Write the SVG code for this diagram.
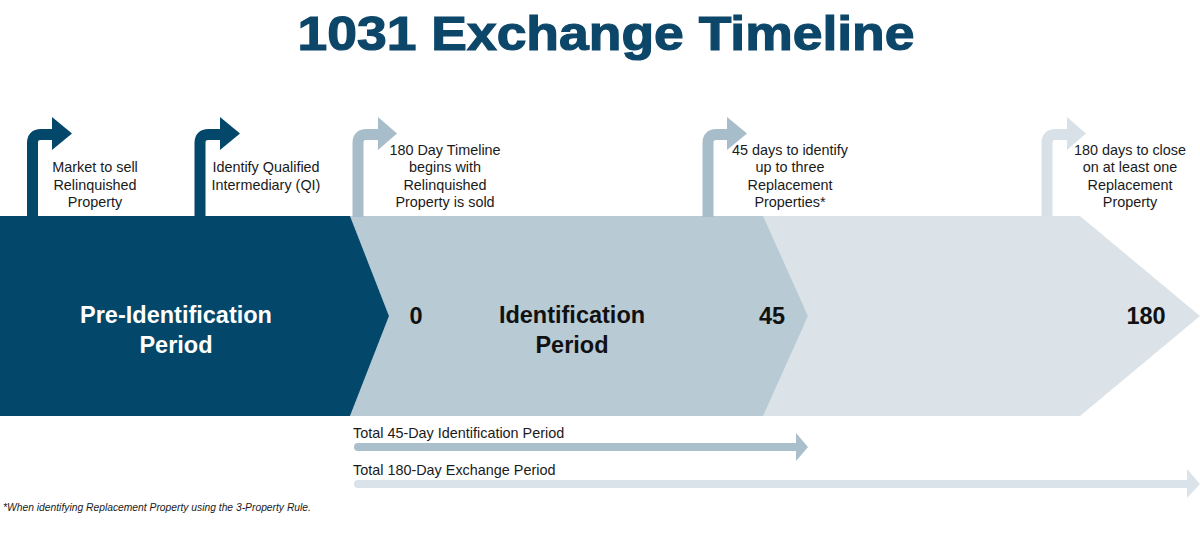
<svg xmlns="http://www.w3.org/2000/svg" width="1200" height="554" viewBox="0 0 1200 554">
<style>
.lbl{font-family:"Liberation Sans",Arial,sans-serif;font-size:14.4px;fill:#1a1a1a;text-anchor:middle}
.big{font-family:"Liberation Sans",Arial,sans-serif;font-size:23.5px;font-weight:bold;text-anchor:middle}
.stem{fill:none;stroke-width:11}
.dk{stroke:#03476b}.dkf{fill:#03476b}
.md{stroke:#a7bdca}.mdf{fill:#a7bdca}
.lt{stroke:#d7e1e7}.ltf{fill:#d7e1e7}
</style>
<rect width="1200" height="554" fill="#ffffff"/>
<text x="606" y="50" font-family="'Liberation Sans',Arial,sans-serif" font-size="48" font-weight="bold" fill="#0c4669" stroke="#0c4669" stroke-width="1.2" text-anchor="middle" textLength="617" lengthAdjust="spacingAndGlyphs">1031 Exchange Timeline</text>

<g id="chevron-light"><polygon points="760,216 1080,216 1200,316 1080,416 760,416 808,316" fill="#dbe3e9"/><text class="big" x="1146" y="324" fill="#111">180</text></g>
<g id="chevron-mid"><polygon points="350,216 763,216 808,316 763,416 350,416 389,316" fill="#b8cad4"/>
<text class="big" x="416" y="324" fill="#111">0</text>
<text class="big" x="572" y="323" fill="#111">Identification</text>
<text class="big" x="572" y="353" fill="#111">Period</text>
<text class="big" x="772" y="324" fill="#111">45</text></g>
<g id="chevron-dark"><polygon points="0,216 350,216 389,316 350,416 0,416" fill="#03476b"/>
<text class="big" x="176" y="323" fill="#fff">Pre-Identification</text>
<text class="big" x="176" y="353" fill="#fff">Period</text></g>

<g id="connectors">
<path class="stem dk" d="M32.5,217 V143 Q32.5,134.5 41,134.5 H53"/><polygon class="dkf" points="52,117 72,133.5 52,150"/>
<path class="stem dk" d="M200,217 V143 Q200,134.5 208.5,134.5 H221"/><polygon class="dkf" points="220,117 240,133.5 220,150"/>
<path class="stem md" d="M358,217 V143 Q358,134.5 366.5,134.5 H379"/><polygon class="mdf" points="378,117 397,133.5 378,150"/>
<path class="stem md" d="M708,217 V143 Q708,134.5 716.5,134.5 H728"/><polygon class="mdf" points="727,117 747,133.5 727,150"/>
<path class="stem lt" d="M1047,217 V143 Q1047,134.5 1055.5,134.5 H1068"/><polygon class="ltf" points="1067,117 1086,133.5 1067,150"/>
<line x1="358" y1="447" x2="797" y2="447" stroke="#a9bfcc" stroke-width="8" stroke-linecap="round"/><polygon fill="#a9bfcc" points="796,433 808,447 796,461"/>
<line x1="358" y1="484" x2="1188" y2="484" stroke="#dae3e9" stroke-width="8" stroke-linecap="round"/><polygon fill="#dae3e9" points="1187,469 1200,484 1187,498"/>
</g>

<g id="label-1"><text class="lbl" x="95" y="172">Market to sell</text><text class="lbl" x="95" y="190">Relinquished</text><text class="lbl" x="95" y="207">Property</text></g>
<g id="label-2"><text class="lbl" x="266" y="172">Identify Qualified</text><text class="lbl" x="266" y="190">Intermediary (QI)</text></g>
<g id="label-3"><text class="lbl" x="445" y="155">180 Day Timeline</text><text class="lbl" x="445" y="172">begins with</text><text class="lbl" x="445" y="190">Relinquished</text><text class="lbl" x="445" y="207">Property is sold</text></g>
<g id="label-4"><text class="lbl" x="790" y="155">45 days to identify</text><text class="lbl" x="790" y="172">up to three</text><text class="lbl" x="790" y="190">Replacement</text><text class="lbl" x="790" y="207">Properties*</text></g>
<g id="label-5"><text class="lbl" x="1130" y="155">180 days to close</text><text class="lbl" x="1130" y="172">on at least one</text><text class="lbl" x="1130" y="190">Replacement</text><text class="lbl" x="1130" y="207">Property</text></g>
<g id="period-labels">
<text class="lbl" x="353" y="438" style="text-anchor:start">Total 45-Day Identification Period</text>
<text class="lbl" x="353" y="475" style="text-anchor:start">Total 180-Day Exchange Period</text>
</g>
<text x="3" y="511" font-family="'Liberation Sans',Arial,sans-serif" font-size="10.3" font-style="italic" fill="#1a1a1a">*When identifying Replacement Property using the 3-Property Rule.</text>
</svg>
